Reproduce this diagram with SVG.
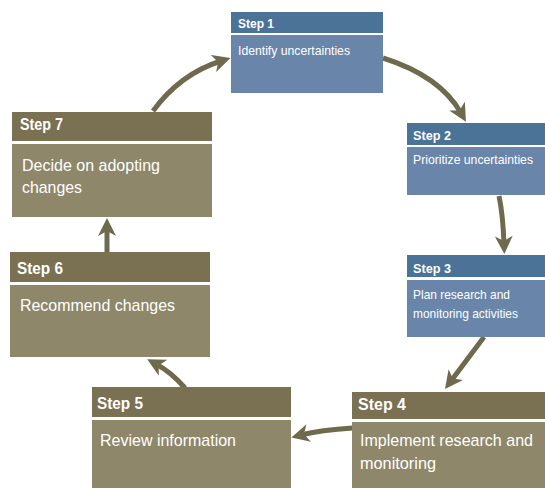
<svg xmlns="http://www.w3.org/2000/svg" width="545" height="488" viewBox="0 0 545 488">
<style>
.hb{fill:#4b7297}.bb{fill:#6986aa}
.hn{fill:#7a7052}.bn{fill:#8f876a}
.h{font-family:"Liberation Sans",Arial,sans-serif;font-weight:bold;fill:#ffffff}
.t{font-family:"Liberation Sans",Arial,sans-serif;fill:#ffffff}
.c{fill:none;stroke:#6f6a4e;stroke-width:5}
</style>
<defs>
<marker id="ah" viewBox="0 0 18 18" markerWidth="18" markerHeight="18" refX="8" refY="9" orient="auto" markerUnits="userSpaceOnUse">
<path d="M0,0 L18,9 L0,18 L5,9 Z" fill="#6f6a4e"/>
</marker>
</defs>
<rect width="545" height="488" fill="#ffffff"/>
<g id="connectors">
<path class="c" d="M153,111 Q180,74 221,61" marker-end="url(#ah)"/>
<path class="c" d="M383,58 Q440,76 461,113" marker-end="url(#ah)"/>
<path class="c" d="M499,196 Q503,215 504,244" marker-end="url(#ah)"/>
<path class="c" d="M484,337 L451,381" marker-end="url(#ah)"/>
<path class="c" d="M353,428 Q320,430 301,435" marker-end="url(#ah)"/>
<path class="c" d="M185,388 Q171,372 156,364" marker-end="url(#ah)"/>
<path class="c" d="M107,252 L107,228" marker-end="url(#ah)"/>
</g>
<g id="step1">
<rect class="hb" x="231" y="12" width="152" height="21"/>
<rect class="bb" x="231" y="35" width="152" height="58"/>
<text class="h" x="238" y="28" font-size="13" textLength="36" lengthAdjust="spacingAndGlyphs">Step 1</text>
<text class="t" x="238" y="55" font-size="13" textLength="112" lengthAdjust="spacingAndGlyphs">Identify uncertainties</text>
</g>
<g id="step2">
<rect class="hb" x="407" y="123" width="138" height="22"/>
<rect class="bb" x="407" y="147" width="138" height="48"/>
<text class="h" x="413" y="140" font-size="13" textLength="38" lengthAdjust="spacingAndGlyphs">Step 2</text>
<text class="t" x="413" y="164" font-size="13" textLength="120" lengthAdjust="spacingAndGlyphs">Prioritize uncertainties</text>
</g>
<g id="step3">
<rect class="hb" x="407" y="255" width="138" height="22"/>
<rect class="bb" x="407" y="280" width="138" height="57"/>
<text class="h" x="413" y="273" font-size="13" textLength="38" lengthAdjust="spacingAndGlyphs">Step 3</text>
<text class="t" x="413" y="299" font-size="13" textLength="97" lengthAdjust="spacingAndGlyphs">Plan research and</text>
<text class="t" x="413" y="318" font-size="13" textLength="105" lengthAdjust="spacingAndGlyphs">monitoring activities</text>
</g>
<g id="step4">
<rect class="hn" x="352" y="392" width="193" height="27"/>
<rect class="bn" x="352" y="422" width="193" height="66"/>
<text class="h" x="358" y="410" font-size="16" textLength="48" lengthAdjust="spacingAndGlyphs">Step 4</text>
<text class="t" x="360" y="446" font-size="17" textLength="173" lengthAdjust="spacingAndGlyphs">Implement research and</text>
<text class="t" x="360" y="469" font-size="17" textLength="76" lengthAdjust="spacingAndGlyphs">monitoring</text>
</g>
<g id="step5">
<rect class="hn" x="92" y="387" width="199" height="30"/>
<rect class="bn" x="92" y="420" width="199" height="68"/>
<text class="h" x="97" y="409" font-size="16" textLength="46" lengthAdjust="spacingAndGlyphs">Step 5</text>
<text class="t" x="100" y="446" font-size="17" textLength="136" lengthAdjust="spacingAndGlyphs">Review information</text>
</g>
<g id="step6">
<rect class="hn" x="10" y="252" width="200" height="30"/>
<rect class="bn" x="10" y="285" width="200" height="72"/>
<text class="h" x="17" y="274" font-size="16" textLength="46" lengthAdjust="spacingAndGlyphs">Step 6</text>
<text class="t" x="20" y="311" font-size="17" textLength="155" lengthAdjust="spacingAndGlyphs">Recommend changes</text>
</g>
<g id="step7">
<rect class="hn" x="12" y="112" width="200" height="29"/>
<rect class="bn" x="12" y="144" width="200" height="73"/>
<text class="h" x="20" y="130" font-size="16" textLength="43" lengthAdjust="spacingAndGlyphs">Step 7</text>
<text class="t" x="22" y="171" font-size="17" textLength="138" lengthAdjust="spacingAndGlyphs">Decide on adopting</text>
<text class="t" x="22" y="193" font-size="17" textLength="60" lengthAdjust="spacingAndGlyphs">changes</text>
</g>
</svg>
